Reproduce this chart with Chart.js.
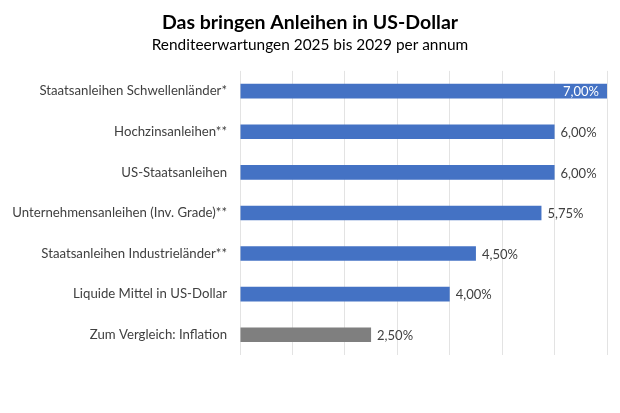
<!DOCTYPE html>
<html>
<head>
<meta charset="utf-8">
<script src="https://cdn.jsdelivr.net/npm/chart.js@4"></script>
<style>
  html, body { margin: 0; padding: 0; background: #fff; }
  #wrap { width: 620px; height: 413px; }
</style>
</head>
<body>
<div id="wrap"><canvas id="graficoBarras" width="620" height="413"></canvas></div>
<script>
  const kategorien = [
    'Staatsanleihen Schwellenländer*',
    'Hochzinsanleihen**',
    'US-Staatsanleihen',
    'Unternehmensanleihen (Inv. Grade)**',
    'Staatsanleihen Industrieländer**',
    'Liquide Mittel in US-Dollar',
    'Zum Vergleich: Inflation'
  ];
  const renditen = [7.00, 6.00, 6.00, 5.75, 4.50, 4.00, 2.50];
  const farben = ['#4472C4', '#4472C4', '#4472C4', '#4472C4', '#4472C4', '#4472C4', '#7F7F7F'];

  const schrift = 'Lato, "Open Sans", sans-serif';

  // Prozentwerte neben/in den Balken
  const werteLabels = {
    id: 'werteLabels',
    afterDatasetsDraw(chart) {
      const { ctx } = chart;
      const meta = chart.getDatasetMeta(0);
      ctx.save();
      ctx.font = '13px ' + schrift;
      ctx.textBaseline = 'middle';
      meta.data.forEach((bar, i) => {
        const txt = renditen[i].toFixed(2).replace('.', ',') + '%';
        const w = ctx.measureText(txt).width;
        if (bar.x + 8 + w > chart.width) {
          ctx.fillStyle = '#ffffff';
          ctx.textAlign = 'right';
          ctx.fillText(txt, bar.x - 8, bar.y + 1);
        } else {
          ctx.fillStyle = '#404040';
          ctx.textAlign = 'left';
          ctx.fillText(txt, bar.x + 6, bar.y + 1);
        }
      });
      ctx.restore();
    }
  };

  new Chart(document.getElementById('graficoBarras'), {
    type: 'bar',
    data: {
      labels: kategorien,
      datasets: [{
        data: renditen,
        backgroundColor: farben,
        borderWidth: 0,
        barPercentage: 0.36,
        categoryPercentage: 1.0
      }]
    },
    options: {
      indexAxis: 'y',
      responsive: false,
      animation: false,
      layout: { padding: { left: 13, right: 13, top: 0, bottom: 58 } },
      plugins: {
        legend: { display: false },
        tooltip: { enabled: false },
        title: {
          display: true,
          text: 'Das bringen Anleihen in US-Dollar',
          color: '#000',
          font: { family: schrift, size: 19.5, weight: 'bold' },
          padding: { top: 11.5, bottom: 1 }
        },
        subtitle: {
          display: true,
          text: 'Renditeerwartungen 2025 bis 2029 per annum',
          color: '#000',
          font: { family: schrift, size: 15.4 },
          padding: { top: 0, bottom: 16.5 }
        }
      },
      scales: {
        x: {
          min: 0,
          max: 7,
          ticks: { display: false, stepSize: 1 },
          grid: { color: '#e3e3e3', drawTicks: false },
          border: { display: false }
        },
        y: {
          ticks: { color: '#404040', font: { family: schrift, size: 13.2 }, padding: 13 },
          grid: { display: false, drawTicks: false },
          border: { display: false },
          afterFit(scale) { scale.width = 227; }
        }
      }
    },
    plugins: [werteLabels]
  });
</script>
</body>
</html>
